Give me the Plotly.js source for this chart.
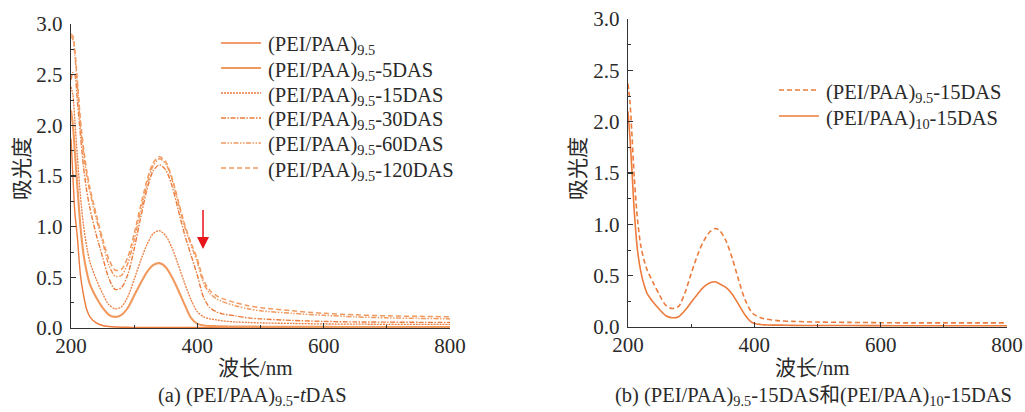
<!DOCTYPE html>
<html>
<head>
<meta charset="utf-8">
<script src="https://cdn.plot.ly/plotly-3.0.1.min.js"></script>
<style>html,body{margin:0;padding:0;background:#fff;}#chart{width:1025px;height:412px;}</style>
</head>
<body>
<div id="chart"></div>
<script>
// ---- data ----
const wlA = [200,203,206,210,215,220,225,230,240,250,260,270,280,290,300,310,320,330,340,350,360,370,380,390,400,410,420,430,440,460,480,500,550,600,650,700,750,800];
const absBare = [1.87,1.50,1.15,0.90,0.52,0.32,0.18,0.11,0.05,0.025,0.015,0.010,0.008,0.007,0.006,0.006,0.005,0.005,0.005,0.005,0.005,0.005,0.005,0.005,0.005,0.004,0.004,0.004,0.004,0.004,0.004,0.004,0.003,0.003,0.003,0.003,0.003,0.003];
const abs5 = [2.15,2.00,1.75,1.40,1.00,0.72,0.55,0.43,0.30,0.20,0.13,0.11,0.13,0.20,0.32,0.44,0.55,0.62,0.64,0.60,0.50,0.37,0.23,0.10,0.04,0.025,0.02,0.018,0.016,0.015,0.014,0.013,0.012,0.011,0.010,0.010,0.010,0.010];
const abs15 = [2.38,2.30,2.05,1.70,1.30,1.00,0.80,0.65,0.48,0.34,0.23,0.19,0.21,0.31,0.48,0.66,0.82,0.93,0.96,0.91,0.79,0.62,0.44,0.28,0.16,0.11,0.09,0.08,0.07,0.06,0.055,0.05,0.045,0.04,0.038,0.036,0.035,0.035];
const abs30 = [2.45,2.52,2.50,2.25,1.90,1.58,1.35,1.18,0.92,0.70,0.49,0.38,0.40,0.53,0.78,1.08,1.36,1.55,1.61,1.56,1.40,1.16,0.92,0.72,0.52,0.30,0.20,0.16,0.14,0.12,0.10,0.09,0.075,0.065,0.06,0.058,0.056,0.055];
const abs60 = [2.88,2.85,2.70,2.40,2.00,1.72,1.50,1.34,1.08,0.85,0.62,0.51,0.52,0.64,0.87,1.15,1.41,1.60,1.67,1.62,1.46,1.23,1.00,0.82,0.65,0.44,0.34,0.29,0.26,0.22,0.19,0.17,0.145,0.125,0.11,0.10,0.095,0.09];
const abs120 = [2.90,2.88,2.75,2.45,2.05,1.77,1.55,1.38,1.12,0.88,0.68,0.57,0.58,0.70,0.93,1.20,1.45,1.63,1.69,1.64,1.48,1.25,1.02,0.84,0.68,0.47,0.37,0.32,0.29,0.25,0.22,0.20,0.17,0.145,0.13,0.12,0.115,0.11];

const wlB = [200,203,206,210,215,220,225,230,240,250,260,270,280,290,300,310,320,330,338,345,355,365,375,385,395,400,410,420,440,460,500,550,600,650,700,750,800];
const absB95 = [2.37,2.20,1.90,1.45,1.05,0.80,0.66,0.56,0.43,0.31,0.21,0.18,0.20,0.33,0.52,0.70,0.84,0.93,0.96,0.94,0.84,0.67,0.46,0.27,0.15,0.12,0.09,0.075,0.06,0.055,0.048,0.045,0.042,0.04,0.04,0.04,0.04];
const absB10 = [2.10,1.85,1.55,1.12,0.75,0.55,0.42,0.33,0.24,0.17,0.11,0.09,0.10,0.16,0.24,0.32,0.39,0.43,0.44,0.42,0.385,0.32,0.22,0.12,0.05,0.035,0.025,0.02,0.018,0.016,0.015,0.014,0.013,0.012,0.012,0.012,0.012];

const namesA = ['(PEI/PAA)<sub>9.5</sub>','(PEI/PAA)<sub>9.5</sub>-5DAS','(PEI/PAA)<sub>9.5</sub>-15DAS','(PEI/PAA)<sub>9.5</sub>-30DAS','(PEI/PAA)<sub>9.5</sub>-60DAS','(PEI/PAA)<sub>9.5</sub>-120DAS'];
const namesB = ['(PEI/PAA)<sub>9.5</sub>-15DAS','(PEI/PAA)<sub>10</sub>-15DAS'];
const yTicks = [0,0.5,1,1.5,2,2.5,3];
const xTicks = [200,400,600,800];

// ---- styling ----
const ORANGE = '#EC7B3C';
const LIGHT = '#F19A60';
const TXT = '#2a2a2a';
const FONT = 'Liberation Serif, Times New Roman, serif';
const CJK = 'Liberation Serif, Noto Sans CJK SC, serif';

const stylesA = [
  {color: ORANGE, width: 1.4, dash: 'solid'},
  {color: LIGHT, width: 2.1, dash: 'solid'},
  {color: ORANGE, width: 1.3, dash: '2px,1px'},
  {color: ORANGE, width: 1.4, dash: '5px,1.5px,1.5px,1.5px'},
  {color: LIGHT, width: 1.5, dash: '5px,1.5px,1.5px,1.5px,1.5px,1.5px'},
  {color: LIGHT, width: 1.5, dash: '5px,3px'}
];
const stylesB = [
  {color: ORANGE, width: 1.6, dash: '5px,3px'},
  {color: ORANGE, width: 1.6, dash: 'solid'}
];
const seriesA = [absBare, abs5, abs15, abs30, abs60, abs120];
const seriesB = [absB95, absB10];

const traces = [];
seriesA.forEach((s, i) => {
  traces.push({x: wlA, y: s, type: 'scatter', mode: 'lines', name: namesA[i],
    line: Object.assign({shape: 'spline', smoothing: 0.8}, stylesA[i]),
    xaxis: 'x', yaxis: 'y', hoverinfo: 'skip', showlegend: false});
});
seriesB.forEach((s, i) => {
  traces.push({x: wlB, y: s, type: 'scatter', mode: 'lines', name: namesB[i],
    line: Object.assign({shape: 'spline', smoothing: 0.8}, stylesB[i]),
    xaxis: 'x2', yaxis: 'y2', hoverinfo: 'skip', showlegend: false});
});

const W = 1025, H = 412;
const px = v => v / W, py = v => (H - v) / H;

function xAxis(domain, anchor) {
  return {domain: domain, anchor: anchor, range: [200, 800], tickvals: xTicks, ticktext: xTicks.map(String),
    ticks: 'inside', ticklen: 5, tickwidth: 1.2, tickcolor: '#333',
    minor: {dtick: 100, tick0: 200, ticks: 'inside', ticklen: 3, tickcolor: '#333', tickwidth: 1},
    showline: true, linecolor: '#333', linewidth: 1.3, showgrid: false, zeroline: false,
    ticklabelstandoff: -2,
    tickfont: {family: FONT, size: 21, color: TXT}, fixedrange: true};
}
function yAxis(domain, anchor) {
  return {domain: domain, anchor: anchor, range: [0, 3], tickvals: yTicks, ticktext: yTicks.map(v => v.toFixed(1)),
    ticks: 'inside', ticklen: 5, tickwidth: 1.2, tickcolor: '#333',
    minor: {dtick: 0.25, tick0: 0, ticks: 'inside', ticklen: 3, tickcolor: '#333', tickwidth: 1},
    showline: true, linecolor: '#333', linewidth: 1.3, showgrid: false, zeroline: false,
    ticklabelstandoff: 3,
    tickfont: {family: FONT, size: 21, color: TXT}, fixedrange: true};
}

// legend drawn as layout shapes + text (positions in page pixels)
const legA = {x0: 221, x1: 261, tx: 266, rows: [43, 68, 93, 118, 143, 168]};
const legB = {x0: 779, x1: 819, tx: 824, rows: [90, 116]};
const shapes = [];
const annotations = [];
function addLegend(leg, names, styles) {
  names.forEach((n, i) => {
    const yr = leg.rows[i];
    shapes.push({type: 'line', xref: 'paper', yref: 'paper', x0: px(leg.x0), x1: px(leg.x1), y0: py(yr), y1: py(yr),
      line: {color: styles[i].color, width: styles[i].width, dash: styles[i].dash}});
    annotations.push({xref: 'paper', yref: 'paper', x: px(leg.tx), y: py(yr + 3), text: n, showarrow: false,
      xanchor: 'left', yanchor: 'middle', font: {family: FONT, size: 20.5, color: TXT}});
  });
}
addLegend(legA, namesA, stylesA);
addLegend(legB, namesB, stylesB);

annotations.push(
  {xref: 'paper', yref: 'paper', x: px(255), y: py(368), text: '波长/nm', showarrow: false,
    font: {family: CJK, size: 21, color: TXT}, xanchor: 'center', yanchor: 'middle'},
  {xref: 'paper', yref: 'paper', x: px(812), y: py(368), text: '波长/nm', showarrow: false,
    font: {family: CJK, size: 21, color: TXT}, xanchor: 'center', yanchor: 'middle'},
  {xref: 'paper', yref: 'paper', x: px(22), y: py(169), text: '吸光度', showarrow: false, textangle: -90,
    font: {family: CJK, size: 21, color: TXT}, xanchor: 'center', yanchor: 'middle'},
  {xref: 'paper', yref: 'paper', x: px(578), y: py(169), text: '吸光度', showarrow: false, textangle: -90,
    font: {family: CJK, size: 21, color: TXT}, xanchor: 'center', yanchor: 'middle'},
  {xref: 'paper', yref: 'paper', x: px(252), y: py(396), text: '(a) (PEI/PAA)<sub>9.5</sub>-<i>t</i>DAS', showarrow: false,
    font: {family: CJK, size: 20.5, color: TXT}, xanchor: 'center', yanchor: 'middle'},
  {xref: 'paper', yref: 'paper', x: px(813), y: py(396), text: '(b) (PEI/PAA)<sub>9.5</sub>-15DAS和(PEI/PAA)<sub>10</sub>-15DAS', showarrow: false,
    font: {family: CJK, size: 20.5, color: TXT}, xanchor: 'center', yanchor: 'middle'},
  {xref: 'x', yref: 'y', axref: 'x', ayref: 'y', x: 409, y: 0.78, ax: 409, ay: 1.18, text: '',
    showarrow: true, arrowhead: 2, arrowsize: 1.6, arrowwidth: 1.5, arrowcolor: '#E8141C'}
);

const layout = {
  width: W, height: H,
  margin: {l: 0, r: 0, t: 0, b: 0},
  paper_bgcolor: '#fff', plot_bgcolor: '#fff',
  showlegend: false,
  xaxis: xAxis([px(71), px(450)], 'y'),
  yaxis: yAxis([py(328), py(24)], 'x'),
  xaxis2: xAxis([px(628), px(1007)], 'y2'),
  yaxis2: yAxis([py(327), py(19)], 'x2'),
  shapes: shapes,
  annotations: annotations
};

Plotly.newPlot('chart', traces, layout, {staticPlot: true, displayModeBar: false});
</script>
</body>
</html>
